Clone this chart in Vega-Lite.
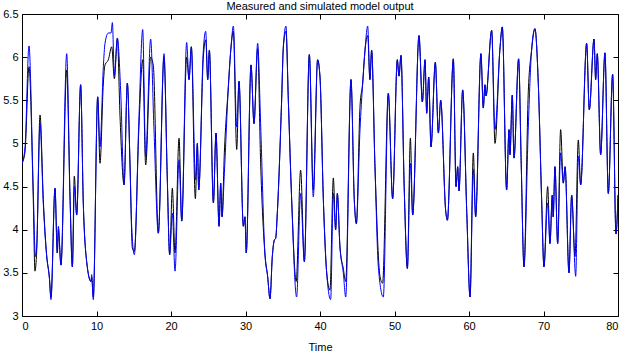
{
  "$schema": "https://vega.github.io/schema/vega-lite/v6.json",
  "width": 596,
  "height": 302,
  "autosize": {"type": "none"},
  "padding": {"left": 22, "top": 14, "right": 8, "bottom": 38},
  "background": "white",
  "title": {"text": "Measured and simulated model output", "font": "Liberation Sans", "fontSize": 11, "fontWeight": "normal", "color": "black", "offset": -4},
  "config": {
    "view": {"stroke": "black", "strokeWidth": 1},
    "axis": {"grid": false, "domain": false, "tickSize": -5, "tickColor": "black", "labelColor": "black", "labelFont": "Liberation Sans", "labelFontSize": 11, "titleFont": "Liberation Sans", "titleFontSize": 11, "titleFontWeight": "normal", "titleColor": "black"}
  },
  "datasets": {
    "meas": [{"t":0,"v":4.77},{"t":0.4,"v":4.9},{"t":0.94,"v":5.89},{"t":1.5,"v":4.4},{"t":1.74,"v":3.52},{"t":1.97,"v":3.75},{"t":2.42,"v":5.33},{"t":2.86,"v":4.35},{"t":3.31,"v":3.7},{"t":3.67,"v":3.45},{"t":3.89,"v":3.22},{"t":4.43,"v":4.48},{"t":4.74,"v":3.73},{"t":4.88,"v":4.0},{"t":5.23,"v":3.59},{"t":6.0,"v":5.85},{"t":6.44,"v":4.4},{"t":6.76,"v":3.57},{"t":7.02,"v":4.62},{"t":7.34,"v":4.17},{"t":7.87,"v":5.68},{"t":8.23,"v":4.3},{"t":8.68,"v":3.63},{"t":9.26,"v":3.4},{"t":9.35,"v":3.45},{"t":9.57,"v":3.22},{"t":10.16,"v":5.54},{"t":10.47,"v":4.77},{"t":10.92,"v":5.7},{"t":11.14,"v":5.91},{"t":11.59,"v":5.97},{"t":12.04,"v":6.12},{"t":12.4,"v":5.75},{"t":12.8,"v":6.22},{"t":13.15,"v":5.33},{"t":13.7,"v":4.52},{"t":14.14,"v":5.7},{"t":14.5,"v":4.75},{"t":14.81,"v":3.79},{"t":15.08,"v":3.75},{"t":15.7,"v":5.2},{"t":16.2,"v":5.97},{"t":16.6,"v":4.75},{"t":17.27,"v":6.0},{"t":17.63,"v":5.9},{"t":18.3,"v":3.96},{"t":19.06,"v":6.0},{"t":19.5,"v":4.6},{"t":19.82,"v":3.71},{"t":20.18,"v":4.48},{"t":20.54,"v":3.73},{"t":21.08,"v":5.06},{"t":21.44,"v":4.1},{"t":22.1,"v":6.0},{"t":22.42,"v":5.74},{"t":22.73,"v":6.12},{"t":23.27,"v":4.36},{"t":23.54,"v":5.0},{"t":23.72,"v":4.46},{"t":24.34,"v":6.0},{"t":24.66,"v":6.2},{"t":24.93,"v":5.74},{"t":25.15,"v":6.08},{"t":25.69,"v":4.31},{"t":26.04,"v":5.12},{"t":26.45,"v":4.04},{"t":26.67,"v":4.54},{"t":26.85,"v":4.15},{"t":27.16,"v":4.89},{"t":27.7,"v":5.66},{"t":28.06,"v":6.12},{"t":28.37,"v":6.3},{"t":28.82,"v":4.93},{"t":29.13,"v":5.72},{"t":29.71,"v":4.04},{"t":29.93,"v":4.15},{"t":30.1,"v":3.73},{"t":30.74,"v":5.91},{"t":31.14,"v":5.23},{"t":31.63,"v":6.1},{"t":32.03,"v":4.78},{"t":32.6,"v":3.73},{"t":32.97,"v":3.46},{"t":33.29,"v":3.2},{"t":33.6,"v":3.69},{"t":33.87,"v":3.88},{"t":34.05,"v":3.9},{"t":34.27,"v":4.19},{"t":34.85,"v":5.5},{"t":35.08,"v":6.12},{"t":35.43,"v":6.3},{"t":35.75,"v":5.5},{"t":36.2,"v":4.34},{"t":36.8,"v":3.4},{"t":37.4,"v":4.69},{"t":37.9,"v":3.63},{"t":38.57,"v":6.03},{"t":39.1,"v":4.46},{"t":39.68,"v":5.97},{"t":40.0,"v":5.77},{"t":40.45,"v":4.35},{"t":40.9,"v":3.5},{"t":41.34,"v":3.3},{"t":41.79,"v":4.6},{"t":42.1,"v":4.0},{"t":42.33,"v":4.42},{"t":42.68,"v":3.8},{"t":43.13,"v":3.55},{"t":43.45,"v":3.4},{"t":44.16,"v":5.74},{"t":44.6,"v":4.35},{"t":44.88,"v":4.07},{"t":45.37,"v":5.43},{"t":45.73,"v":5.7},{"t":46.04,"v":6.08},{"t":46.4,"v":6.25},{"t":46.7,"v":5.74},{"t":46.93,"v":6.08},{"t":47.38,"v":4.73},{"t":48.05,"v":3.46},{"t":48.4,"v":3.38},{"t":49.17,"v":5.58},{"t":49.75,"v":4.36},{"t":50.38,"v":5.97},{"t":50.6,"v":5.78},{"t":50.87,"v":6.02},{"t":51.3,"v":4.5},{"t":51.73,"v":3.55},{"t":52.13,"v":5.06},{"t":52.44,"v":4.17},{"t":53.29,"v":6.25},{"t":53.74,"v":5.48},{"t":54.1,"v":5.97},{"t":54.32,"v":5.35},{"t":54.59,"v":5.77},{"t":54.9,"v":4.96},{"t":55.48,"v":5.94},{"t":55.89,"v":5.12},{"t":56.2,"v":5.5},{"t":56.87,"v":4.22},{"t":57.1,"v":4.11},{"t":57.9,"v":5.98},{"t":58.26,"v":4.5},{"t":58.48,"v":4.73},{"t":58.66,"v":4.45},{"t":59.15,"v":5.62},{"t":59.7,"v":4.2},{"t":60.14,"v":3.22},{"t":60.58,"v":4.89},{"t":60.89,"v":4.15},{"t":61.6,"v":6.04},{"t":61.92,"v":5.41},{"t":62.14,"v":5.68},{"t":62.28,"v":5.55},{"t":63.04,"v":6.31},{"t":63.49,"v":5.0},{"t":64.14,"v":6.08},{"t":64.47,"v":6.35},{"t":65.05,"v":4.46},{"t":65.37,"v":5.16},{"t":65.5,"v":4.87},{"t":65.81,"v":5.56},{"t":66.04,"v":4.83},{"t":66.66,"v":5.98},{"t":67.0,"v":4.8},{"t":67.38,"v":3.57},{"t":67.96,"v":5.6},{"t":68.4,"v":6.08},{"t":68.85,"v":6.33},{"t":69.3,"v":5.7},{"t":69.75,"v":4.35},{"t":70.06,"v":3.57},{"t":70.56,"v":4.5},{"t":70.87,"v":3.84},{"t":71.18,"v":4.4},{"t":71.3,"v":4.15},{"t":71.54,"v":4.73},{"t":71.9,"v":3.84},{"t":72.3,"v":5.16},{"t":72.66,"v":4.54},{"t":72.9,"v":4.73},{"t":73.42,"v":3.5},{"t":73.78,"v":4.4},{"t":74.23,"v":3.69},{"t":74.67,"v":5.04},{"t":74.99,"v":4.52},{"t":75.79,"v":6.16},{"t":76.15,"v":5.39},{"t":76.78,"v":6.21},{"t":77.0,"v":5.74},{"t":77.22,"v":6.04},{"t":77.67,"v":4.87},{"t":78.25,"v":6.05},{"t":78.7,"v":4.42},{"t":79.28,"v":5.8},{"t":79.73,"v":3.95},{"t":80,"v":4.4}],
    "sim": [{"t":0,"v":4.77},{"t":0.4,"v":4.95},{"t":0.94,"v":6.13},{"t":1.5,"v":4.5},{"t":1.8,"v":3.69},{"t":1.97,"v":3.8},{"t":2.42,"v":5.23},{"t":2.86,"v":4.3},{"t":3.31,"v":3.7},{"t":3.67,"v":3.45},{"t":3.89,"v":3.19},{"t":4.43,"v":4.48},{"t":4.74,"v":3.73},{"t":4.88,"v":4.04},{"t":5.23,"v":3.59},{"t":6.0,"v":6.04},{"t":6.44,"v":4.4},{"t":6.76,"v":3.57},{"t":7.05,"v":4.5},{"t":7.34,"v":4.17},{"t":7.87,"v":5.68},{"t":8.23,"v":4.3},{"t":8.68,"v":3.63},{"t":9.26,"v":3.4},{"t":9.35,"v":3.48},{"t":9.57,"v":3.19},{"t":10.16,"v":5.54},{"t":10.47,"v":4.96},{"t":10.92,"v":5.89},{"t":11.14,"v":6.16},{"t":11.59,"v":6.28},{"t":11.95,"v":6.28},{"t":12.13,"v":6.4},{"t":12.4,"v":5.79},{"t":12.8,"v":6.22},{"t":13.24,"v":5.62},{"t":13.7,"v":4.52},{"t":14.14,"v":5.7},{"t":14.5,"v":4.75},{"t":14.72,"v":4.04},{"t":15.08,"v":3.71},{"t":15.7,"v":5.3},{"t":16.2,"v":6.32},{"t":16.6,"v":4.85},{"t":17.27,"v":6.21},{"t":17.7,"v":5.2},{"t":18.3,"v":3.96},{"t":19.06,"v":6.04},{"t":19.5,"v":4.6},{"t":19.82,"v":3.71},{"t":20.18,"v":4.19},{"t":20.54,"v":3.52},{"t":21.08,"v":4.81},{"t":21.44,"v":4.1},{"t":22.1,"v":6.17},{"t":22.42,"v":5.74},{"t":22.73,"v":6.12},{"t":23.3,"v":4.58},{"t":23.54,"v":5.0},{"t":23.72,"v":4.46},{"t":24.34,"v":6.08},{"t":24.66,"v":6.3},{"t":24.93,"v":5.74},{"t":25.15,"v":6.08},{"t":25.69,"v":4.31},{"t":26.04,"v":5.12},{"t":26.45,"v":4.04},{"t":26.67,"v":4.54},{"t":26.85,"v":4.15},{"t":27.16,"v":4.65},{"t":27.7,"v":5.66},{"t":28.06,"v":6.12},{"t":28.37,"v":6.36},{"t":28.82,"v":5.19},{"t":29.13,"v":5.72},{"t":29.71,"v":4.04},{"t":29.93,"v":4.15},{"t":30.1,"v":3.73},{"t":30.74,"v":5.91},{"t":31.14,"v":5.23},{"t":31.63,"v":6.16},{"t":32.03,"v":5.23},{"t":32.6,"v":3.73},{"t":32.97,"v":3.46},{"t":33.29,"v":3.2},{"t":33.6,"v":3.69},{"t":33.87,"v":3.88},{"t":34.05,"v":3.9},{"t":34.27,"v":4.19},{"t":34.85,"v":5.5},{"t":35.08,"v":6.12},{"t":35.43,"v":6.36},{"t":35.75,"v":5.5},{"t":36.2,"v":4.34},{"t":36.86,"v":3.22},{"t":37.4,"v":4.42},{"t":37.9,"v":3.63},{"t":38.57,"v":6.03},{"t":39.1,"v":4.38},{"t":39.68,"v":5.97},{"t":40.0,"v":5.77},{"t":40.45,"v":4.35},{"t":40.9,"v":3.5},{"t":41.43,"v":3.19},{"t":41.79,"v":4.42},{"t":42.1,"v":4.0},{"t":42.33,"v":4.42},{"t":42.68,"v":3.8},{"t":43.13,"v":3.5},{"t":43.45,"v":3.22},{"t":44.16,"v":5.74},{"t":44.6,"v":4.35},{"t":44.88,"v":4.07},{"t":45.37,"v":5.16},{"t":45.73,"v":5.7},{"t":46.04,"v":6.08},{"t":46.4,"v":6.36},{"t":46.7,"v":5.74},{"t":46.93,"v":6.08},{"t":47.38,"v":4.73},{"t":47.83,"v":3.57},{"t":48.5,"v":3.22},{"t":49.17,"v":5.58},{"t":49.75,"v":4.36},{"t":50.38,"v":5.97},{"t":50.6,"v":5.78},{"t":50.87,"v":6.02},{"t":51.3,"v":4.5},{"t":51.73,"v":3.55},{"t":52.13,"v":4.77},{"t":52.44,"v":4.17},{"t":53.29,"v":6.25},{"t":53.74,"v":5.48},{"t":54.1,"v":5.97},{"t":54.32,"v":5.35},{"t":54.59,"v":5.77},{"t":54.9,"v":4.96},{"t":55.48,"v":5.94},{"t":55.89,"v":5.12},{"t":56.2,"v":5.5},{"t":56.87,"v":4.22},{"t":57.1,"v":4.11},{"t":57.9,"v":5.98},{"t":58.26,"v":4.5},{"t":58.48,"v":4.73},{"t":58.66,"v":4.45},{"t":59.15,"v":5.62},{"t":59.7,"v":4.2},{"t":60.14,"v":3.22},{"t":60.58,"v":4.7},{"t":60.89,"v":4.15},{"t":61.6,"v":6.04},{"t":61.92,"v":5.41},{"t":62.14,"v":5.68},{"t":62.28,"v":5.55},{"t":63.04,"v":6.31},{"t":63.49,"v":5.16},{"t":64.14,"v":6.08},{"t":64.47,"v":6.35},{"t":65.05,"v":4.46},{"t":65.37,"v":5.16},{"t":65.5,"v":4.87},{"t":65.81,"v":5.56},{"t":66.04,"v":4.83},{"t":66.66,"v":5.98},{"t":67.0,"v":4.8},{"t":67.38,"v":3.57},{"t":67.96,"v":5.19},{"t":68.4,"v":6.08},{"t":68.85,"v":6.33},{"t":69.3,"v":5.7},{"t":69.75,"v":4.35},{"t":70.06,"v":3.57},{"t":70.56,"v":4.31},{"t":70.87,"v":3.84},{"t":71.18,"v":4.4},{"t":71.3,"v":4.15},{"t":71.54,"v":4.73},{"t":71.9,"v":3.84},{"t":72.3,"v":4.89},{"t":72.66,"v":4.54},{"t":72.9,"v":4.73},{"t":73.42,"v":3.5},{"t":73.78,"v":4.4},{"t":74.32,"v":3.46},{"t":74.67,"v":4.85},{"t":74.99,"v":4.52},{"t":75.79,"v":6.16},{"t":76.15,"v":5.39},{"t":76.78,"v":6.21},{"t":77.0,"v":5.74},{"t":77.22,"v":6.04},{"t":77.67,"v":4.87},{"t":78.25,"v":6.05},{"t":78.7,"v":4.42},{"t":79.28,"v":5.8},{"t":79.73,"v":3.95},{"t":80,"v":4.4}]
  },
  "layer": [
    {
      "data": {"name": "meas"},
      "mark": {"type": "line", "color": "black", "strokeWidth": 1, "interpolate": "monotone", "clip": true},
      "encoding": {
        "x": {"field": "t", "type": "quantitative", "scale": {"domain": [0, 80], "nice": false}, "axis": {"orient": "bottom", "title": "Time", "values": [0,10,20,30,40,50,60,70,80], "labelPadding": 9, "titlePadding": 10}},
        "y": {"field": "v", "type": "quantitative", "scale": {"domain": [3, 6.5], "nice": false, "zero": false}, "axis": {"orient": "left", "title": null, "values": [3,3.5,4,4.5,5,5.5,6,6.5], "format": "~g", "labelPadding": 9}}
      }
    },
    {
      "data": {"name": "sim"},
      "mark": {"type": "line", "color": "#0000ff", "strokeWidth": 1, "interpolate": "monotone", "clip": true},
      "encoding": {
        "x": {"field": "t", "type": "quantitative", "axis": {"orient": "top", "title": null, "labels": false, "values": [0,10,20,30,40,50,60,70,80]}},
        "y": {"field": "v", "type": "quantitative", "axis": {"orient": "right", "title": null, "labels": false, "values": [3,3.5,4,4.5,5,5.5,6,6.5]}}
      }
    }
  ],
  "resolve": {"axis": {"x": "independent", "y": "independent"}}
}
